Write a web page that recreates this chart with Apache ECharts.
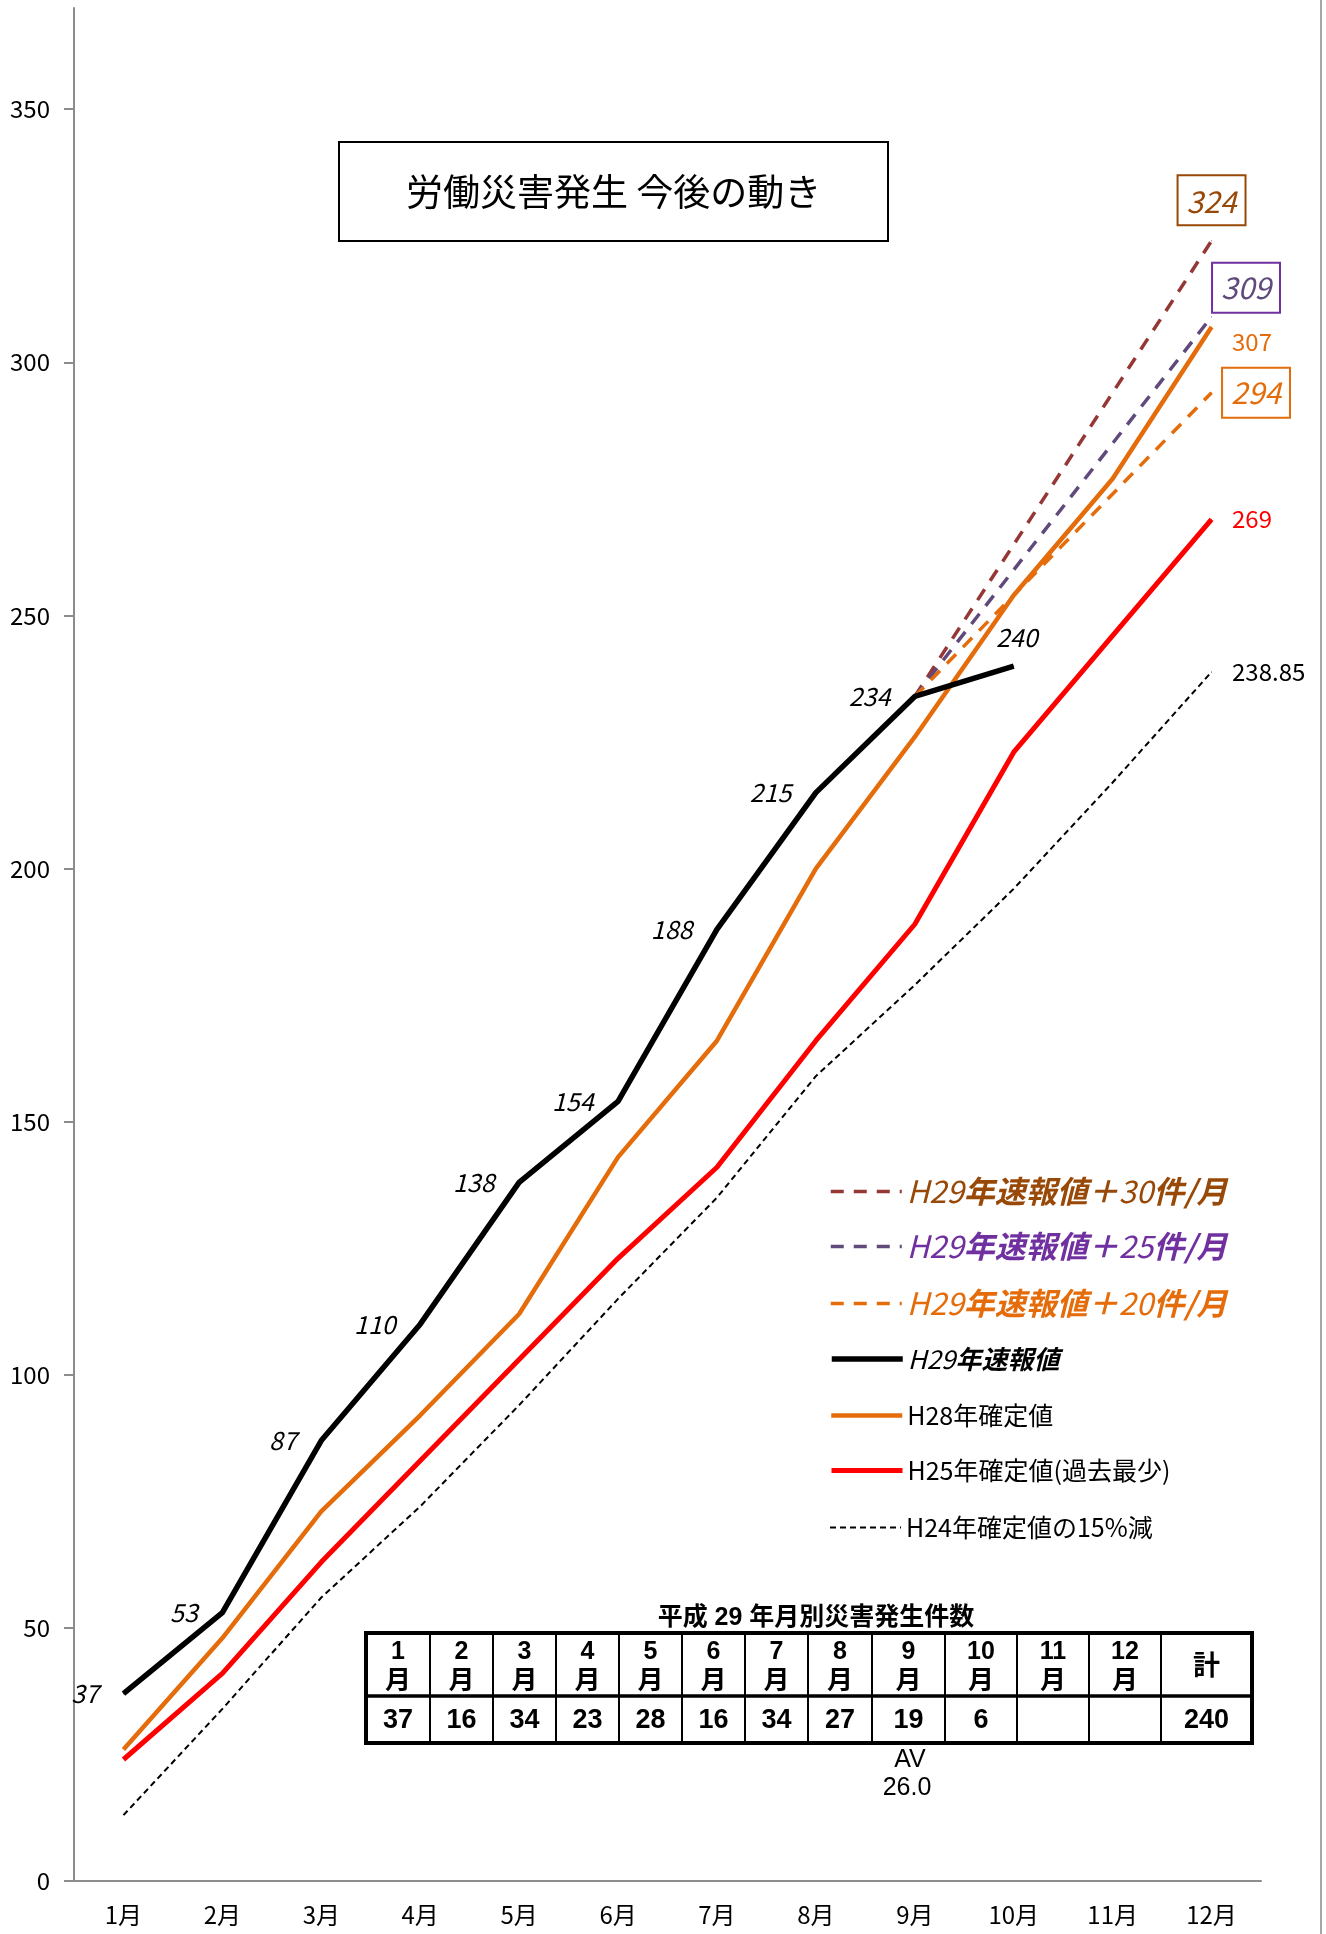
<!DOCTYPE html>
<html><head><meta charset="utf-8">
<script src="https://cdn.jsdelivr.net/npm/echarts@6/dist/echarts.min.js"></script>
<style>html,body{margin:0;padding:0;background:#fff}#c{width:1326px;height:1934px}</style>
</head><body><div id="c"></div>
<script>
// ---- data ----
const months = ['1月','2月','3月','4月','5月','6月','7月','8月','9月','10月','11月','12月'];
const yTicks = [0,50,100,150,200,250,300,350];
const h29Prelim = [37,53,87,110,138,154,188,215,234,240,null,null];
const h28Final = [26,48,73,92,112,143,166,200,226,254,277,307];
const h25Final = [24,41,63,83,103,123,141,166,189,223,246,269];
const h24Minus15 = [13,34,56,74,94,115,135,159,177,196,217,238.85];
const plus30 = [null,null,null,null,null,null,null,null,234,264,294,324];
const plus25 = [null,null,null,null,null,null,null,null,234,259,284,309];
const plus20 = [null,null,null,null,null,null,null,null,234,254,274,294];
const tableMonths = ['1','2','3','4','5','6','7','8','9','10','11','12'];
const monthlyCounts = [37,16,34,23,28,16,34,27,19,6,null,null];
const monthlyTotal = 240;
const monthlyAverage = '26.0';
const names = ['H29年速報値＋30件/月','H29年速報値＋25件/月','H29年速報値＋20件/月','H29年速報値','H28年確定値','H25年確定値(過去最少)','H24年確定値の15%減'];

const FONT = '"Noto Sans CJK JP","Noto Sans",sans-serif';
const ARIAL = '"Liberation Sans","Noto Sans CJK JP",sans-serif';
const C30 = '#953735', C30T = '#984807';
const C25 = '#604A7B', C25T = '#7030A0';
const C20 = '#E46C0A';
const lineWidths = [3.5,3.5,3.5,5.5,4.5,5,2];

function endLabel(arr, cfg){
  return arr.map((v,i)=> (v!=null && i===arr.length-1) ? {value:v, symbol:'circle', symbolSize:1, label:Object.assign({show:true}, cfg)} : (v==null?'-':v));
}

const h29Data = h29Prelim.map((v,i)=>{
  if(v==null) return '-';
  const last = i===9;
  return {value:v, symbol:'circle', symbolSize:1, label:{show:true, position: last?'top':'left', distance: last?16:24, offset: last?[3,0]:[0,0]}};
});

const chart = echarts.init(document.getElementById('c'), null, {renderer:'canvas'});

// table graphics (layout positions)
const colX = [366,430,493,556,619,682,745,808,872,945,1017,1089,1161,1252];
const tTop = 1633, tMid = 1696, tBot = 1743;
const g = [];
g.push({type:'text', style:{text:'平成 29 年月別災害発生件数', x:816, y:1618, textAlign:'center', textVerticalAlign:'middle', fill:'#000', font:'bold 25px '+ARIAL}});
g.push({type:'rect', shape:{x:colX[0], y:tTop, width:colX[13]-colX[0], height:tBot-tTop}, style:{fill:'#fff', stroke:'#000', lineWidth:4}});
g.push({type:'line', shape:{x1:colX[0], y1:tMid, x2:colX[13], y2:tMid}, style:{stroke:'#000', lineWidth:3.5}});
for(let i=1;i<13;i++) g.push({type:'line', shape:{x1:colX[i], y1:tTop, x2:colX[i], y2:tBot}, style:{stroke:'#000', lineWidth:2}});
for(let i=0;i<13;i++){
  const cx = (colX[i]+colX[i+1])/2;
  if(i<12){
    g.push({type:'text', style:{text:tableMonths[i], x:cx, y:1652, textAlign:'center', textVerticalAlign:'middle', fill:'#000', font:'bold 25px '+ARIAL}});
    g.push({type:'text', style:{text:'月', x:cx, y:1679, textAlign:'center', textVerticalAlign:'middle', fill:'#000', font:'bold 26px '+FONT}});
  } else {
    g.push({type:'text', style:{text:'計', x:cx, y:1665, textAlign:'center', textVerticalAlign:'middle', fill:'#000', font:'bold 27px '+FONT}});
  }
  const val = i<12 ? (monthlyCounts[i]==null?'':String(monthlyCounts[i])) : String(monthlyTotal);
  g.push({type:'text', style:{text:val, x:cx, y:1721, textAlign:'center', textVerticalAlign:'middle', fill:'#000', font:'bold 27px '+ARIAL}});
}
g.push({type:'text', style:{text:'AV', x:910, y:1760, textAlign:'center', textVerticalAlign:'middle', fill:'#000', font:'25px '+ARIAL}});
g.push({type:'text', style:{text:monthlyAverage, x:907, y:1788, textAlign:'center', textVerticalAlign:'middle', fill:'#000', font:'25px '+ARIAL}});
g.push({type:'line', shape:{x1:1321, y1:0, x2:1321, y2:1934}, style:{stroke:'#a6a6a6', lineWidth:2}});

const rich = {};
[['a',C30T],['b',C25T],['c',C20]].forEach(([k,c])=>{
  rich[k+'n'] = {color:c, fontSize:31, fontStyle:'italic', fontFamily:FONT};
  rich[k+'b'] = {color:c, fontSize:31, fontStyle:'italic', fontWeight:'bold', fontFamily:FONT};
});
rich.kn = {color:'#000', fontSize:26, fontStyle:'italic', fontFamily:FONT};
rich.kb = {color:'#000', fontSize:26, fontStyle:'italic', fontWeight:'bold', fontFamily:FONT};
rich.t = {color:'#000', fontSize:25, fontFamily:FONT};

function legendFmt(name){
  const i = names.indexOf(name);
  if(i<3){
    const k = ['a','b','c'][i];
    const n = name.match(/＋(\d+)/)[1];
    return `{${k}n|H29}{${k}b|年速報値＋}{${k}n|${n}}{${k}b|件/月}`;
  }
  if(i===3) return '{kn|H29}{kb|年速報値}';
  return '{t|'+name+'}';
}

const rowCenters = [1192,1247,1304,1359,1416,1471,1528];
const legends = names.map((nm,i)=>({
  orient:'vertical', left:829, top: rowCenters[i] - (i<3?16:13), padding:0,
  itemWidth:71, itemHeight:14, data:[nm], formatter:legendFmt,
  textStyle:{rich:rich, fontFamily:FONT}, itemStyle:{opacity:0},
  lineStyle:{width:lineWidths[i]}, selectedMode:false
}));

const option = {
  backgroundColor:'#fff',
  animation:false,
  textStyle:{fontFamily:FONT},
  title:{
    text:'労働災害発生 今後の動き', left:339, top:142,
    padding:[31,67], borderColor:'#000', borderWidth:2,
    textStyle:{fontSize:37, fontWeight:'normal', color:'#000', fontFamily:FONT}
  },
  legend:legends,
  grid:{left:74, right:65, top:8, bottom:53, containLabel:false},
  xAxis:{
    type:'category', data:months, boundaryGap:true,
    axisLine:{lineStyle:{color:'#8c8c8c', width:2}},
    axisTick:{length:10, lineStyle:{color:'#8c8c8c', width:2}},
    axisLabel:{color:'#000', fontSize:24, margin:22, fontFamily:FONT}
  },
  yAxis:{
    type:'value', min:0, max:370, interval:50,
    axisLine:{show:true, lineStyle:{color:'#8c8c8c', width:2}},
    axisTick:{show:true, length:10, customValues:yTicks, lineStyle:{color:'#8c8c8c', width:2}},
    axisLabel:{color:'#000', fontSize:24, margin:24, customValues:yTicks, fontFamily:FONT},
    splitLine:{show:false}
  },
  graphic:g,
  series:[
    {name:names[0], type:'line', symbol:'none', data:endLabel(plus30,{position:'top', distance:15, color:C30T, fontSize:30, fontStyle:'italic', borderColor:C30T, borderWidth:2, padding:[11,9,9,9]}),
     lineStyle:{color:C30, width:lineWidths[0], type:[13,10]}, itemStyle:{color:C30}, z:3},
    {name:names[1], type:'line', symbol:'none', data:endLabel(plus25,{position:'right', distance:0, offset:[0,-29], color:C25, fontSize:30, fontStyle:'italic', borderColor:C25T, borderWidth:2, padding:[11,9,9,9]}),
     lineStyle:{color:C25, width:lineWidths[1], type:[13,10]}, itemStyle:{color:C25}, z:3},
    {name:names[2], type:'line', symbol:'none', data:endLabel(plus20,{position:'right', distance:10, color:C20, fontSize:30, fontStyle:'italic', borderColor:C20, borderWidth:2, padding:[11,9,9,9]}),
     lineStyle:{color:C20, width:lineWidths[2], type:[13,10]}, itemStyle:{color:C20}, z:3},
    {name:names[3], type:'line', symbol:'none', data:h29Data,
     label:{color:'#000', fontSize:25, fontStyle:'italic', fontFamily:FONT},
     lineStyle:{color:'#000', width:lineWidths[3]}, itemStyle:{color:'#000'}, z:5},
    {name:names[4], type:'line', symbol:'none', data:endLabel(h28Final,{position:'right', distance:20, offset:[0,15], color:C20, fontSize:24}),
     lineStyle:{color:C20, width:lineWidths[4]}, itemStyle:{color:C20}, z:4},
    {name:names[5], type:'line', symbol:'none', data:endLabel(h25Final,{position:'right', distance:20, color:'#FF0000', fontSize:24}),
     lineStyle:{color:'#FF0000', width:lineWidths[5]}, itemStyle:{color:'#FF0000'}, z:2},
    {name:names[6], type:'line', symbol:'none', data:endLabel(h24Minus15,{position:'right', distance:20, color:'#000', fontSize:24}),
     lineStyle:{color:'#000', width:lineWidths[6], type:[6,4]}, itemStyle:{color:'#000'}, z:2}
  ]
};
chart.setOption(option);
</script></body></html>
